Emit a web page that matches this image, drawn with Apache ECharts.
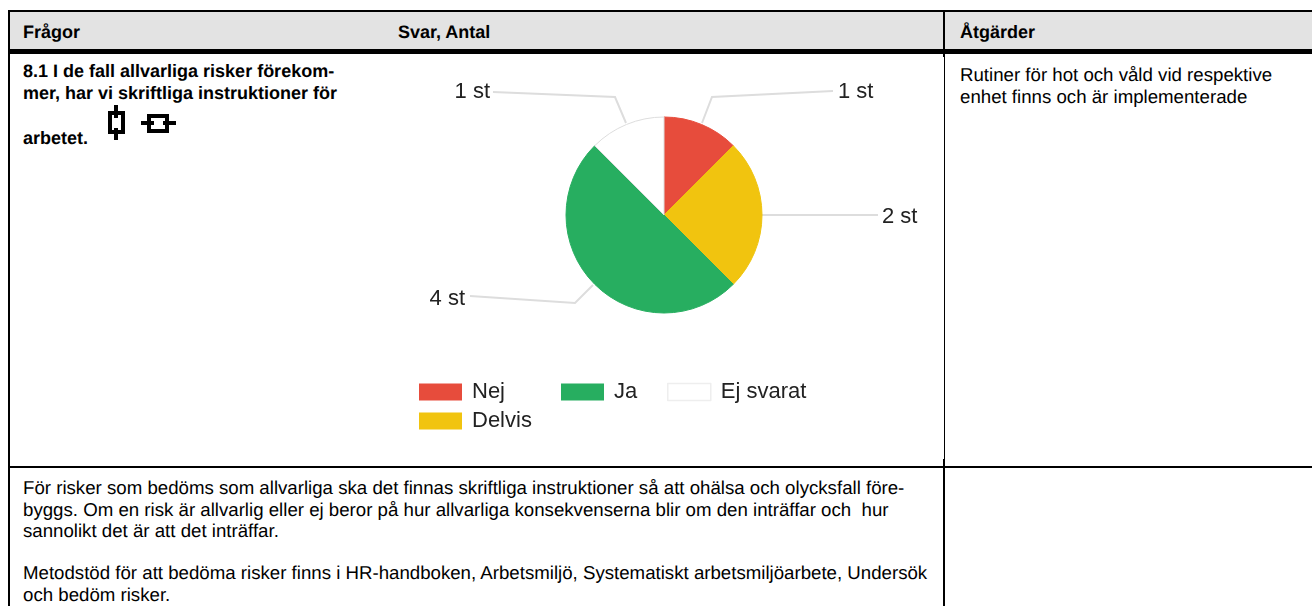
<!DOCTYPE html>
<html><head><meta charset="utf-8">
<script src="https://cdn.jsdelivr.net/npm/echarts@6/dist/echarts.min.js"></script>
<style>
html,body{margin:0;padding:0;background:#fff;width:1312px;height:606px;overflow:hidden}
#chart{position:absolute;left:0;top:0;width:1312px;height:606px}
.r{position:absolute;background:#000}
.t{position:absolute;font-family:"Liberation Sans",Arial,sans-serif;font-size:18.67px;line-height:22px;color:#000;white-space:nowrap;text-rendering:geometricPrecision}
.b{font-weight:bold;font-size:18px}
svg{position:absolute;filter:blur(0.5px)}
</style></head><body>
<div class="r" style="left:10px;top:12px;width:1302px;height:38px;background:#e3e3e3"></div>
<div class="r" style="left:8px;top:10px;width:1304px;height:2px"></div>
<div class="r" style="left:8px;top:49px;width:1304px;height:5px"></div>
<div class="r" style="left:8px;top:10px;width:2px;height:596px"></div>
<div class="r" style="left:943px;top:10px;width:2px;height:47px"></div>
<div class="r" style="left:944px;top:54px;width:1px;height:405px"></div>
<div class="r" style="left:8px;top:466px;width:1304px;height:2px"></div>
<div class="r" style="left:943px;top:459px;width:2px;height:147px"></div>
<div class="t b" style="left:23px;top:21px">Frågor</div>
<div class="t b" style="left:398px;top:21px">Svar, Antal</div>
<div class="t b" style="left:960px;top:21px">Åtgärder</div>
<div class="t b" style="left:23px;top:60px">8.1 I de fall allvarliga risker förekom-<br>mer, har vi skriftliga instruktioner för</div>
<div class="t b" style="left:23px;top:127px">arbetet.</div>
<svg style="left:100px;top:100px" width="80" height="50" viewBox="0 0 80 50">
<path d="M16 5V18M16 28V40M16 13H10V32H16M16 13H23V32H16" fill="none" stroke="#000" stroke-width="4"/>
<path d="M41 23H54M63 23H76M58 16H49V31H67V16H58" fill="none" stroke="#000" stroke-width="4"/>
</svg>
<div class="t" style="left:960px;top:64px">Rutiner för hot och våld vid respektive<br>enhet finns och är implementerade</div>
<div class="t" style="left:23px;top:477px;line-height:21.6px">För risker som bedöms som allvarliga ska det finnas skriftliga instruktioner så att ohälsa och olycksfall före-<br>byggs. Om en risk är allvarlig eller ej beror på hur allvarliga konsekvenserna blir om den inträffar och &nbsp;hur<br>sannolikt det är att det inträffar.</div>
<div class="t" style="left:23px;top:562px;line-height:21.6px">Metodstöd för att bedöma risker finns i HR-handboken, Arbetsmiljö, Systematiskt arbetsmiljöarbete, Undersök<br>och bedöm risker.</div>
<div id="chart"></div>
<script>
const categories = ['Nej', 'Delvis', 'Ja', 'Ej svarat'];
const values = [1, 2, 4, 1];
const unit = ' st';
const colors = ['#e74c3c', '#f1c40f', '#27ae60', '#ffffff'];
const sliceBorders = ['#e74c3c', '#eec40f', '#27ae60', '#dddddd'];
const labelAnchors = [
  {x: 838, y: 91.5, align: 'left', line: [[702,123],[712,97],[833,91]]},
  {x: 882, y: 216.5, align: 'left', line: [[762,215],[878,215]]},
  {x: 465, y: 298.5, align: 'right', line: [[593,285],[575,303],[470,296]]},
  {x: 490, y: 91.5, align: 'right', line: [[626,123],[615,97],[493,92]]}
];
const font = {fontFamily: '"Liberation Sans",Arial,sans-serif', fontSize: 22, color: '#222'};
const chart = echarts.init(document.getElementById('chart'), null, {renderer: 'canvas'});
const legendBase = {orient: 'vertical', itemWidth: 43, itemHeight: 17, itemGap: 7, selectedMode: false,
  textStyle: Object.assign({}, font, {lineHeight: 17, padding: [0,0,0,5]}), icon: 'rect', padding: 0,
  itemStyle: {borderWidth: 0}};
chart.setOption({
  animation: false,
  backgroundColor: 'transparent',
  legend: [
    Object.assign({}, legendBase, {left: 419, top: 381, data: [categories[0], categories[1]]}),
    Object.assign({}, legendBase, {left: 561, top: 381, data: [categories[2]]}),
    Object.assign({}, legendBase, {left: 667, top: 381, data: [categories[3]],
      itemStyle: {borderWidth: 1.5, borderColor: '#eee'}})
  ],
  series: [{
    type: 'pie',
    center: [664, 215],
    radius: [0, 98],
    startAngle: 90,
    clockwise: true,
    data: categories.map((n, i) => ({name: n, value: values[i],
      itemStyle: {color: colors[i], borderColor: sliceBorders[i], borderWidth: 1}})),
    label: Object.assign({}, font, {formatter: p => p.value + unit}),
    labelLine: {show: true, lineStyle: {color: '#ddd', width: 2}},
    labelLayout: p => {
      const a = labelAnchors[p.dataIndex];
      return {x: a.x, y: a.y, align: a.align, verticalAlign: 'middle', labelLinePoints: a.line};
    }
  }]
});
</script>
</body></html>
